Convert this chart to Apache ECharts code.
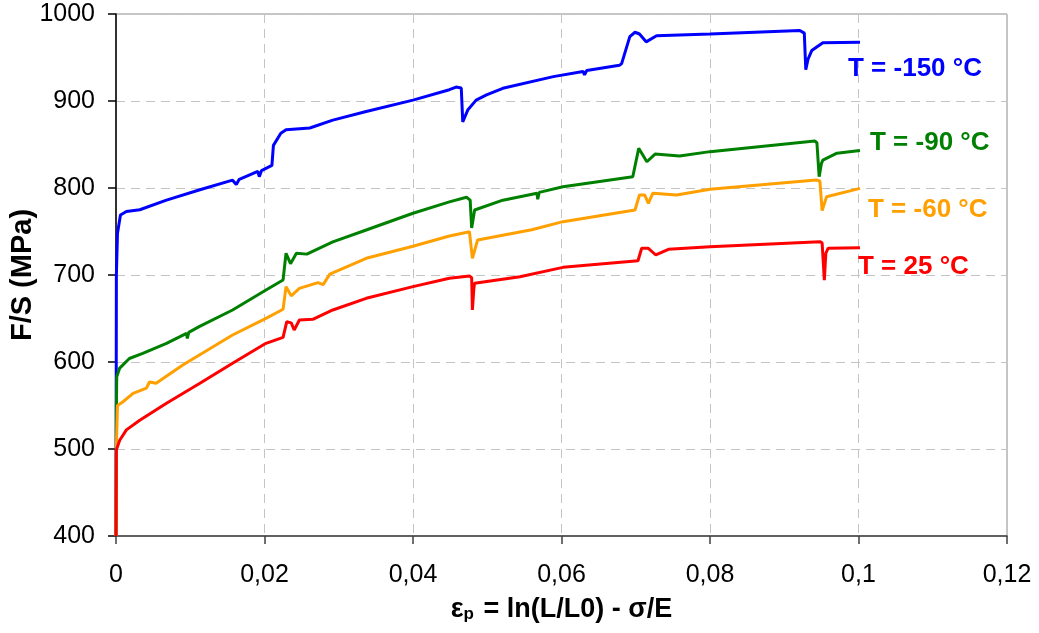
<!DOCTYPE html>
<html>
<head>
<meta charset="utf-8">
<script src="https://cdn.jsdelivr.net/npm/echarts@6/dist/echarts.min.js"></script>
<style>
html,body{margin:0;padding:0;background:#fff;}
#chart{width:1039px;height:633px;}
</style>
</head>
<body>
<div id="chart"></div>
<script>
// ---- data: [plastic strain, F/S (MPa)] ----
const curveM150 = [[0,400],[0.00005,700],[0.0002,748],[0.0006,769],[0.0014,773],[0.0032,775],[0.0068,786],[0.0113,798],[0.0157,809],[0.0162,804],[0.0166,810],[0.0191,819],[0.0193,813],[0.0196,820],[0.0210,826],[0.0212,849],[0.0222,863],[0.0229,867],[0.0261,869],[0.0292,878],[0.0337,888],[0.0400,901],[0.0449,913],[0.0458,916],[0.0465,915],[0.0467,876],[0.0470,882],[0.0474,890],[0.0485,901],[0.0499,907],[0.0521,914.6],[0.0589,928],[0.0629,934],[0.0631,930],[0.0634,935],[0.0678,941],[0.0681,943],[0.0692,974],[0.0699,979],[0.0705,977],[0.0714,968],[0.0728,975],[0.0800,977],[0.0921,981],[0.0927,978],[0.0929,936],[0.0932,948],[0.0937,958],[0.0952,967],[0.1002,967.5]];
const curveM90 = [[0,400],[0.00005,545],[0.0001,583],[0.0005,593],[0.0018,604],[0.0036,610],[0.0068,621.5],[0.0095,633],[0.0096,627],[0.0098,634],[0.0112,640.6],[0.0157,659.8],[0.0202,682.8],[0.0225,694.3],[0.0229,725],[0.0235,713],[0.0243,725],[0.0257,724],[0.0292,738],[0.0337,751.7],[0.0400,771],[0.0449,784],[0.0472,789.3],[0.0477,786],[0.0479,754],[0.0483,774.7],[0.0521,786],[0.0567,794],[0.0568,787],[0.0570,795],[0.0602,801.5],[0.0696,813],[0.0704,845.6],[0.0715,830.2],[0.0726,839],[0.0759,836.8],[0.0800,841.8],[0.0941,854],[0.0944,852],[0.0947,813],[0.0950,828],[0.0952,832],[0.0971,840],[0.1002,843]];
const curveM60 = [[0,400],[0.00005,502],[0.0002,550],[0.0009,554],[0.0023,564],[0.0041,570],[0.0045,577],[0.0054,575.5],[0.0090,596.6],[0.0157,631],[0.0202,650.2],[0.0225,660.6],[0.0229,686.6],[0.0236,676],[0.0247,684.7],[0.0272,691.3],[0.0279,689],[0.0288,701],[0.0337,719.2],[0.0400,733],[0.0449,744.8],[0.0476,749.8],[0.0480,719.2],[0.0487,740.2],[0.0560,752],[0.0602,761.3],[0.0699,774.7],[0.0705,792],[0.0712,792],[0.0717,782.4],[0.0723,794],[0.0755,792],[0.0800,798.5],[0.0943,809.2],[0.0948,808],[0.0951,774],[0.0957,790],[0.1002,799.6]];
const curveP25 = [[0,400],[0.00005,499],[0.0005,510],[0.0014,522],[0.0032,533],[0.0068,552.5],[0.0113,575.5],[0.0157,598.5],[0.0202,621.5],[0.0225,628.4],[0.0230,646.3],[0.0236,645],[0.0240,636.8],[0.0247,648.3],[0.0265,649],[0.0292,659.8],[0.0337,673.2],[0.0400,686.6],[0.0449,696.2],[0.0476,698.9],[0.0479,697],[0.0480,659.8],[0.0482,685],[0.0483,690.4],[0.0544,698],[0.0602,708.8],[0.0703,716.4],[0.0708,730.7],[0.0717,730.7],[0.0727,723],[0.0744,729.5],[0.0800,732.5],[0.0948,738.3],[0.0951,737],[0.0954,694],[0.0956,725],[0.0959,730.7],[0.1002,731.4]];

const seriesNames = ['T = -150 °C','T = -90 °C','T = -60 °C','T = 25 °C'];
const seriesColors = ['#0000ff','#008000','#ffa000','#ff0000'];
const seriesData = [curveM150, curveM90, curveM60, curveP25];
const xTicks = {min:0, max:0.12, interval:0.02};
const yTicks = {min:400, max:1000, interval:100};

const FONT = '"Liberation Sans", Arial, sans-serif';
const chart = echarts.init(document.getElementById('chart'), null, {renderer:'canvas'});

const labelPos = [[848,69],[870,143],[868,210],[858,267]];

const option = {
  backgroundColor:'#fff',
  animation:false,
  grid:{left:116, top:14, right:32, bottom:97, show:true, borderColor:'#8c8c8c', borderWidth:1, containLabel:false, outerBoundsMode:'none'},
  xAxis:{
    type:'value', min:xTicks.min, max:xTicks.max, interval:xTicks.interval,
    name:'{e|ε}{s|p}{e| = ln(L/L0) - σ/E}',
    nameLocation:'middle', nameGap:60, nameMoveOverlap:false,
    nameTextStyle:{rich:{
      e:{fontFamily:FONT, fontSize:27, fontWeight:'bold', color:'#000'},
      s:{fontFamily:FONT, fontSize:17, fontWeight:'bold', color:'#000', verticalAlign:'bottom', padding:[0,2,0,0]}
    }},
    axisLine:{show:true, onZero:false, lineStyle:{color:'#404040', width:1.5}},
    axisTick:{show:true, inside:false, length:8, lineStyle:{color:'#404040', width:1.5}},
    axisLabel:{fontFamily:FONT, fontSize:25, color:'#000', margin:27,
      formatter:function(v){ return v===0 ? '0' : String(+v.toFixed(2)).replace('.', ','); }},
    splitLine:{show:true, lineStyle:{color:'#c4c4c4', type:[9,6], width:1}}
  },
  yAxis:{
    type:'value', min:yTicks.min, max:yTicks.max, interval:yTicks.interval,
    name:'F/S (MPa)', nameLocation:'middle', nameGap:79, nameRotate:90, nameMoveOverlap:false,
    nameTextStyle:{fontFamily:FONT, fontSize:29, fontWeight:'bold', color:'#000'},
    axisLine:{show:true, onZero:false, lineStyle:{color:'#000', width:1.5}},
    axisTick:{show:true, inside:false, length:8, lineStyle:{color:'#000', width:1.5}},
    axisLabel:{fontFamily:FONT, fontSize:25, color:'#000', margin:21,
      formatter:function(v){ return String(v); }},
    splitLine:{show:true, lineStyle:{color:'#c4c4c4', type:[9,6], width:1}}
  },
  series: seriesData.map((d,i)=>({
    type:'line', name:seriesNames[i], data:d, showSymbol:false, symbol:'none',
    lineStyle:{color:seriesColors[i], width:3}, itemStyle:{color:seriesColors[i]},
    z:2+i, clip:true
  })),
  graphic: seriesNames.map((n,i)=>({
    type:'text', x:labelPos[i][0], y:labelPos[i][1], z:100,
    style:{text:n, fill:seriesColors[i], font:'bold 26px ' + FONT, textVerticalAlign:'middle', textAlign:'left'}
  }))
};
chart.setOption(option);
</script>
</body>
</html>
